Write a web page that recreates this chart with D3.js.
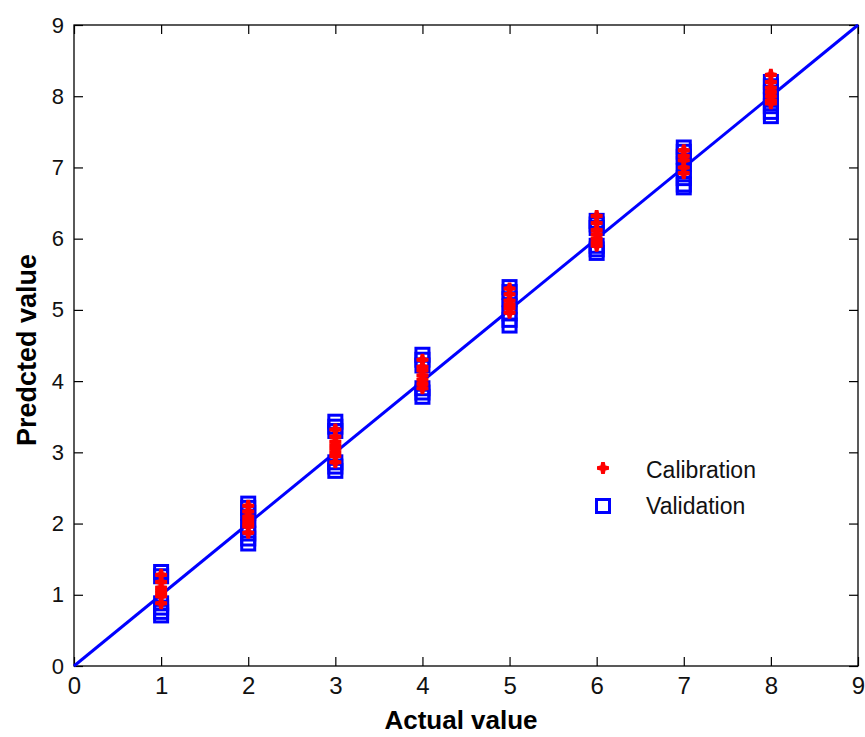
<!DOCTYPE html>
<html><head><meta charset="utf-8">
<script src="https://cdn.jsdelivr.net/npm/d3@7"></script>
<style>body{margin:0;background:#fff}svg{display:block}</style>
</head><body>
<svg id="c" width="865" height="737"></svg>
<script>
const xTicks = [0,1,2,3,4,5,6,7,8,9];
const yTicks = [0,1,2,3,4,5,6,7,8,9];
const levels = [1,2,3,4,5,6,7,8];
const validation = [
  [1.32,1.26,0.88,0.82,0.76,0.71],
  [2.28,2.22,2.15,2.05,1.95,1.86,1.79,1.72],
  [3.43,3.36,3.30,2.86,2.80,2.74],
  [4.37,4.30,4.22,3.90,3.84,3.78],
  [5.32,5.25,5.15,5.05,4.95,4.86,4.78],
  [6.25,6.20,6.15,5.90,5.85,5.80],
  [7.28,7.22,7.15,7.05,6.95,6.85,6.76,6.72],
  [8.20,8.14,8.05,7.95,7.86,7.78,7.72]
];
const calibration = [
  [1.28,1.18,1.10,1.06,1.02,0.98,0.88],
  [2.25,2.17,2.10,2.05,2.00,1.96,1.87],
  [3.32,3.22,3.15,3.10,3.05,3.00,2.95,2.86],
  [4.30,4.20,4.15,4.08,4.02,3.96,3.90],
  [5.30,5.22,5.13,5.07,5.02,4.96],
  [6.32,6.22,6.12,6.06,6.00,5.95,5.90],
  [7.24,7.16,7.10,7.00,6.92],
  [8.30,8.20,8.12,8.06,8.00,7.94,7.90]
];
const fitLine = [[0,0],[9,9]];
const xLabel = "Actual value";
const yLabel = "Predcted value";
const legendLabels = ["Calibration","Validation"];

const svg = d3.select("#c");
const L=74, R=858, T=25, B=666;
const x = d3.scaleLinear().domain([0,9]).range([L,R]);
const y = d3.scaleLinear().domain([0,9]).range([B,T]);
const font = "'Liberation Sans', Arial, sans-serif";

// box
svg.append("rect").attr("x",L).attr("y",T).attr("width",R-L).attr("height",B-T)
  .attr("fill","none").attr("stroke","#000").attr("stroke-width",1.3);

// axes with inward ticks
const gx = svg.append("g").attr("transform",`translate(0,${B})`)
  .call(d3.axisBottom(x).tickValues(xTicks).tickSizeInner(-9).tickSizeOuter(0).tickFormat(d3.format("d")));
const gxT = svg.append("g").attr("transform",`translate(0,${T})`)
  .call(d3.axisTop(x).tickValues(xTicks).tickSizeInner(-9).tickSizeOuter(0).tickFormat(""));
const gy = svg.append("g").attr("transform",`translate(${L},0)`)
  .call(d3.axisLeft(y).tickValues(yTicks).tickSizeInner(-9).tickSizeOuter(0).tickFormat(d3.format("d")));
const gyR = svg.append("g").attr("transform",`translate(${R},0)`)
  .call(d3.axisRight(y).tickValues(yTicks).tickSizeInner(-9).tickSizeOuter(0).tickFormat(""));
[gx,gxT,gy,gyR].forEach(g=>{
  g.select(".domain").remove();
  g.selectAll(".tick line").attr("stroke","#000").attr("stroke-width",1.2);
  g.selectAll("text").attr("font-family",font).attr("fill","#111");
});
gx.selectAll("text").attr("font-size",24).attr("y",28).attr("dy",0);
gy.selectAll("text").attr("font-size",22).attr("x",-10).attr("dy","0.32em");

// fit line
svg.append("path").datum(fitLine)
  .attr("d", d3.line().x(d=>x(d[0])).y(d=>y(d[1])))
  .attr("stroke","#0000ff").attr("stroke-width",3).attr("fill","none");

// validation squares
const vPts = [];
levels.forEach((lv,i)=>validation[i].forEach(v=>vPts.push([lv,v])));
const S=13;
svg.append("g").selectAll("rect").data(vPts).join("rect")
  .attr("x",d=>x(d[0])-S/2).attr("y",d=>y(d[1])-S/2).attr("width",S).attr("height",S)
  .attr("fill","none").attr("stroke","#0000ff").attr("stroke-width",3);

// calibration stars
const cPts = [];
levels.forEach((lv,i)=>calibration[i].forEach(v=>cPts.push([lv,v])));
const star = "M-1.8,-6 L1.8,-6 L2.5,-2.5 L6,-1.8 L6,1.8 L2.5,2.5 L1.8,6 L-1.8,6 L-2.5,2.5 L-6,1.8 L-6,-1.8 L-2.5,-2.5 Z";
svg.append("g").selectAll("path").data(cPts).join("path")
  .attr("d",star).attr("transform",d=>`translate(${x(d[0])},${y(d[1])})`)
  .attr("fill","#ff0000");

// axis labels
svg.append("text").attr("x",461).attr("y",729).attr("text-anchor","middle")
  .attr("font-family",font).attr("font-weight","bold").attr("font-size",26).text(xLabel);
svg.append("text").attr("transform",`translate(36,350) rotate(-90)`).attr("text-anchor","middle")
  .attr("font-family",font).attr("font-weight","bold").attr("font-size",27).text(yLabel);

// legend
const lg = svg.append("g");
lg.append("path").attr("d",star).attr("transform","translate(603,468)").attr("fill","#ff0000");
lg.append("rect").attr("x",603-S/2).attr("y",506-S/2).attr("width",S).attr("height",S)
  .attr("fill","none").attr("stroke","#0000ff").attr("stroke-width",3);
lg.selectAll("text").data(legendLabels).join("text")
  .attr("x",646).attr("y",(d,i)=>478+i*36)
  .attr("font-family",font).attr("font-size",23).attr("fill","#111").text(d=>d);
</script>
</body></html>
